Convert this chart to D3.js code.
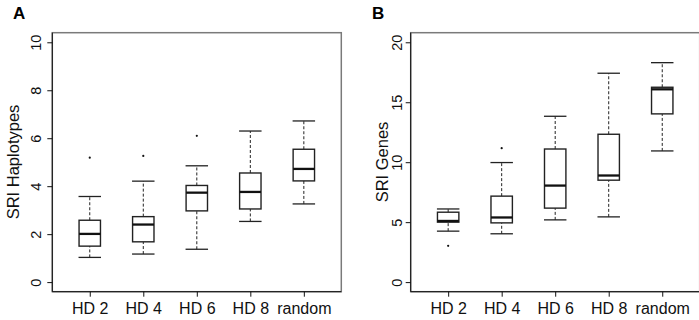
<!DOCTYPE html>
<html>
<head>
<meta charset="utf-8">
<script src="https://cdn.jsdelivr.net/npm/d3@7"></script>
<style>
  body { margin: 0; background: #fff; }
  svg { display: block; font-family: "Liberation Sans", Arial, Helvetica, sans-serif; }
</style>
</head>
<body>
<div id="chart"></div>
<script>
//groups on the x axis
var categories = ["HD 2", "HD 4", "HD 6", "HD 8", "random"];

//panel A : SRI Haplotypes
var hapLow  = [1.03, 1.17, 1.37, 2.53, 3.26];
var hapQ1   = [1.50, 1.68, 2.97, 3.05, 4.22];
var hapMed  = [2.01, 2.40, 3.73, 3.76, 4.72];
var hapQ3   = [2.58, 2.73, 4.03, 4.55, 5.54];
var hapHigh = [3.57, 4.21, 4.85, 6.30, 6.72];
var hapOut  = [[5.19], [5.26], [6.10], [], []];
var hapTicks = [0, 2, 4, 6, 8, 10];

//panel B : SRI Genes
var geneLow  = [4.25, 4.03, 5.19, 5.44, 10.94];
var geneQ1   = [5.00, 4.94, 6.17, 8.50, 14.03];
var geneMed  = [5.10, 5.39, 8.05, 8.89, 16.08];
var geneQ3   = [5.83, 7.17, 11.10, 12.33, 16.25];
var geneHigh = [6.10, 9.97, 13.83, 17.42, 18.30];
var geneOut  = [[3.03], [11.17], [], [], []];
var geneTicks = [0, 5, 10, 15, 20];

var W = 699, H = 320;

var svg = d3.select("#chart").append("svg")
    .attr("width", W)
    .attr("height", H);

//one boxplot panel
function drawPanel(cfg) {
    var x = d3.scaleLinear().domain([0.3, 5.7]).range([cfg.left, cfg.left + 289]);
    var y = d3.scaleLinear().domain(cfg.ydom).range([291.7, 32.7]);
    var boxW = x(1.4) - x(1);      // 0.8 units wide, like R
    var capW = x(1.21) - x(1);

    var g = svg.append("g");

    //frame (grey, antialiased look)
    g.append("rect")
        .attr("x", x.range()[0]).attr("y", y.range()[1])
        .attr("width", x.range()[1] - x.range()[0])
        .attr("height", y.range()[0] - y.range()[1])
        .attr("fill", "none").attr("stroke", "#7a7a7a").attr("stroke-width", 1.5);

    //boxes
    cfg.med.forEach(function(m, i) {
        var cx = x(i + 1);
        var bx = g.append("g");
        //whiskers
        [[cfg.low[i], cfg.q1[i]], [cfg.q3[i], cfg.high[i]]].forEach(function(w) {
            bx.append("line")
                .attr("x1", cx).attr("x2", cx)
                .attr("y1", y(w[0])).attr("y2", y(w[1]))
                .attr("stroke", "#222").attr("stroke-width", 1)
                .attr("stroke-dasharray", "3,2");
        });
        //staples
        [cfg.low[i], cfg.high[i]].forEach(function(v) {
            bx.append("line")
                .attr("x1", cx - capW).attr("x2", cx + capW)
                .attr("y1", y(v)).attr("y2", y(v))
                .attr("stroke", "#222").attr("stroke-width", 1.3);
        });
        bx.append("rect")
            .attr("x", cx - boxW / 2).attr("y", y(cfg.q3[i]))
            .attr("width", boxW).attr("height", y(cfg.q1[i]) - y(cfg.q3[i]))
            .attr("fill", "#fff").attr("stroke", "#222").attr("stroke-width", 1.4);
        bx.append("line")
            .attr("x1", cx - boxW / 2).attr("x2", cx + boxW / 2)
            .attr("y1", y(m)).attr("y2", y(m))
            .attr("stroke", "#111").attr("stroke-width", 2.3);
        cfg.out[i].forEach(function(o) {
            bx.append("circle")
                .attr("cx", cx).attr("cy", y(o)).attr("r", 1.1)
                .attr("fill", "#111");
        });
    });

    //y axis
    var yAxis = g.append("g")
        .attr("transform", "translate(" + x.range()[0] + ",0)")
        .call(d3.axisLeft(y).tickValues(cfg.ticks).tickSize(5).tickFormat(d3.format("d")));
    yAxis.select(".domain").attr("d", "M0," + y.range()[1] + "V" + y.range()[0]).attr("stroke", "#111");
    yAxis.selectAll(".tick line").attr("stroke", "#111");
    yAxis.selectAll(".tick text")
        .attr("x", null).attr("dy", null)
        .attr("transform", "translate(" + (-cfg.tickGap) + ",0) rotate(-90)")
        .attr("text-anchor", "middle")
        .attr("font-size", 14.5).attr("fill", "#111");

    //x axis
    var xAxis = g.append("g")
        .attr("transform", "translate(0," + y.range()[0] + ")")
        .call(d3.axisBottom(x).tickValues([1, 2, 3, 4, 5]).tickSize(5)
              .tickFormat(function(d) { return categories[d - 1]; }));
    xAxis.select(".domain").attr("d", "M" + x.range()[0] + ",0H" + x.range()[1]).attr("stroke", "#111");
    xAxis.selectAll(".tick line").attr("stroke", "#111");
    xAxis.selectAll(".tick text")
        .attr("y", 22).attr("dy", null)
        .attr("font-size", 16).attr("fill", "#111");

    //axis title
    g.append("text")
        .attr("transform", "translate(" + cfg.titleX + "," + 162 + ") rotate(-90)")
        .attr("text-anchor", "middle")
        .attr("font-size", 16.5).attr("fill", "#111")
        .text(cfg.title);

    //panel letter
    g.append("text")
        .attr("x", cfg.letterX).attr("y", 19)
        .attr("font-size", 17).attr("font-weight", "bold").attr("fill", "#000")
        .text(cfg.letter);
}

drawPanel({
    left: 52.3, ydom: [-0.4, 10.4], ticks: hapTicks,
    low: hapLow, q1: hapQ1, med: hapMed, q3: hapQ3, high: hapHigh, out: hapOut,
    tickGap: 11, title: "SRI Haplotypes", titleX: 19, letter: "A", letterX: 13
});

drawPanel({
    left: 410.7, ydom: [-0.8, 20.8], ticks: geneTicks,
    low: geneLow, q1: geneQ1, med: geneMed, q3: geneQ3, high: geneHigh, out: geneOut,
    tickGap: 9, title: "SRI Genes", titleX: 388, letter: "B", letterX: 372
});
</script>
</body>
</html>
